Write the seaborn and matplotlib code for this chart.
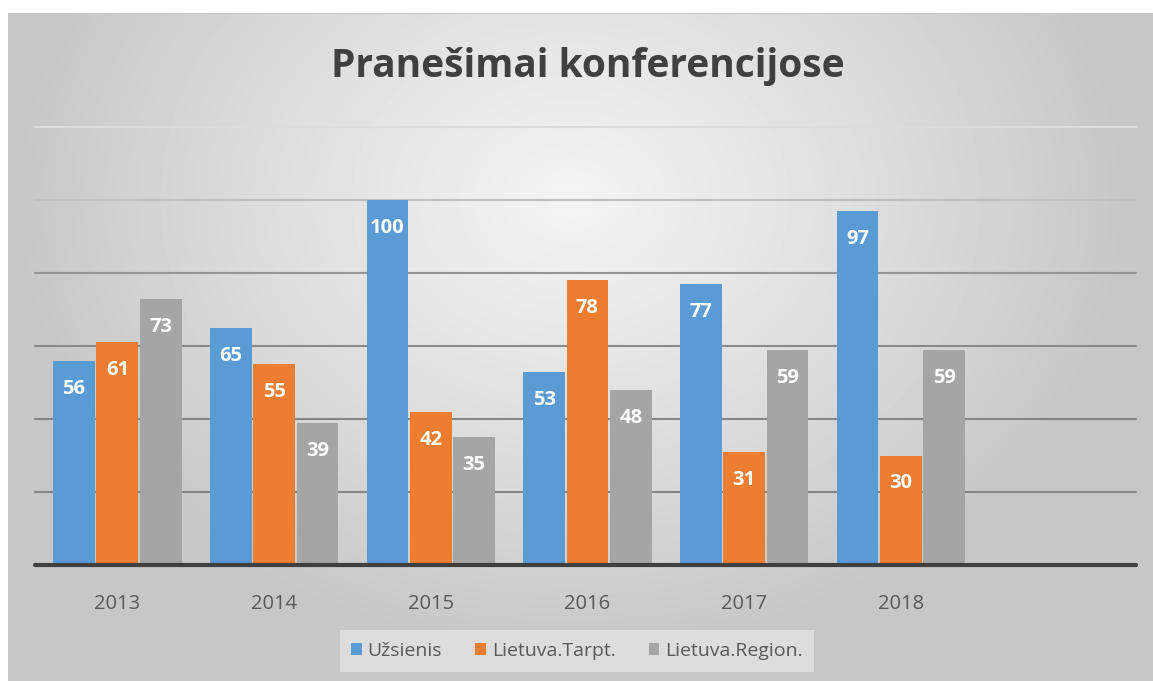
import numpy as np
import pandas as pd
import matplotlib
matplotlib.use("Agg")
import matplotlib.pyplot as plt
import seaborn as sns

# ---- data ----
years = ["2013", "2014", "2015", "2016", "2017", "2018"]
uzsienis = [56, 65, 100, 53, 77, 97]
lietuva_tarpt = [61, 55, 42, 78, 31, 30]
lietuva_region = [73, 39, 35, 48, 59, 59]
series_names = ["Užsienis", "Lietuva.Tarpt.", "Lietuva.Region."]
colors = ["#5B9BD5", "#ED7D31", "#A5A5A5"]
title = "Pranešimai konferencijose"

df = pd.DataFrame({
    "Metai": years * 3,
    "Serija": [series_names[0]] * 6 + [series_names[1]] * 6 + [series_names[2]] * 6,
    "Reikšmė": uzsienis + lietuva_tarpt + lietuva_region,
})
order = years + [" "]

sns.set_theme(style="white")
plt.rcParams["font.family"] = ["Open Sans", "DejaVu Sans"]

W, H = 1153, 681
fig = plt.figure(figsize=(W / 100, H / 100), dpi=100)
fig.patch.set_facecolor("white")

# background radial gradient panel
fx0, fy0 = 8, 13
bg = fig.add_axes([fx0 / W, 0, 1 - fx0 / W, 1 - fy0 / H])
yy, xx = np.mgrid[fy0:H, fx0:W]
d2 = ((xx - 570) / 640.0) ** 2 + ((yy - 200) / 520.0) ** 2
val = np.clip(0.955 - 0.16 * np.sqrt(d2) - 0.05 * d2, 0.78, 0.97)
bg.imshow(val, cmap="gray", vmin=0, vmax=1, aspect="auto", interpolation="bilinear")
bg.set_axis_off()
bg.add_patch(plt.Rectangle((0, 0), 1, 1, transform=bg.transAxes, fill=False,
                           edgecolor="#c8c8c8", lw=1.5))

ax = fig.add_axes([39 / W, 1 - 565 / H, 1097 / W, (565 - 127) / H])
ax.patch.set_alpha(0)

# gridlines
grid_vals = [20, 40, 60, 80, 100, 120]
grid_cols = ["#858585", "#858585", "#8a8a8a", "#959595", "#c0c0c0", "#dcdcdc"]
for gv, gc in zip(grid_vals, grid_cols):
    ax.axhline(gv, xmin=-0.004, color=gc, lw=1.5, zorder=0, clip_on=False)

sns.barplot(data=df, x="Metai", y="Reikšmė", hue="Serija", order=order,
            hue_order=series_names, palette=colors, width=0.83, gap=0.035,
            saturation=1, ax=ax, zorder=2, legend=True, edgecolor="none", linewidth=0)

ax.set_ylim(0, 120)
ax.set_xlim(-0.5, len(order) - 0.5)
ax.axhline(0, xmin=-0.004, color="#404040", lw=3, zorder=3, clip_on=False)
ax.set_yticks([])
ax.set_xlabel("")
ax.set_ylabel("")
for s in ax.spines.values():
    s.set_visible(False)
ax.tick_params(axis="x", length=0, pad=21, labelsize=14.5, labelcolor="#595959")

for cont in ax.containers:
    for bar in cont:
        h = bar.get_height()
        if np.isnan(h) or h <= 0:
            continue
        ax.annotate(f"{int(round(h))}", xy=(bar.get_x() + bar.get_width() / 2, h),
                    xytext=(0, -28), textcoords="offset pixels", ha="center", va="center",
                    color="white", fontsize=14.5, fontweight="bold", zorder=4)

handles, labels = ax.get_legend_handles_labels()
ax.get_legend().remove()
leg = fig.legend(handles, labels, loc="center", bbox_to_anchor=(577 / W, 1 - 651 / H),
                 ncol=3, frameon=True, fontsize=14, handlelength=0.55, handleheight=0.55,
                 handletextpad=0.3, columnspacing=1.7, borderpad=0.6)
leg.get_frame().set_facecolor("#ececec")
leg.get_frame().set_alpha(0.6)
leg.get_frame().set_edgecolor("none")
leg.get_frame().set_boxstyle("square", pad=0)
for t in leg.get_texts():
    t.set_color("#595959")

fig.text(588 / W, 1 - 67 / H, title, ha="center", va="center", fontsize=28,
         fontweight="bold", color="#404040")

fig.savefig("out.png", dpi=100)
